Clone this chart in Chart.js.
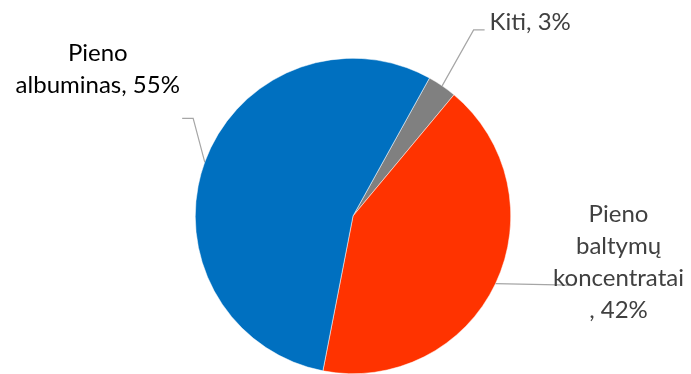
<!DOCTYPE html>
<html>
<head>
<meta charset="utf-8">
<script src="https://cdn.jsdelivr.net/npm/chart.js@4/dist/chart.umd.min.js"></script>
<style>
  html, body { margin: 0; padding: 0; background: #fff; }
  #wrap { width: 691px; height: 374px; position: relative; }
</style>
</head>
<body>
<div id="wrap"><canvas id="c" width="691" height="374"></canvas></div>
<script>
// ---- data ----
const categories = ["Kiti", "Pieno baltymų koncentratai", "Pieno albuminas"];
const shares = [3, 42, 55];
const sliceColors = ["#808080", "#FF3300", "#0070C0"];
// label text lines (per category)
const labelLines = [
  ["Kiti, 3%"],
  ["Pieno", "baltymų", "koncentratai", ", 42%"],
  ["Pieno", "albuminas, 55%"]
];

// ---- label layout (offsets relative to slice mid-point on the rim) ----
const labelLayout = [
  { elbow: [31.5, -56], end: [42.5, -56], text: [47.5, -55.5], align: "left", color: "#404040" },
  { elbow: [74, 1.5], end: [74, 1.5], text: [123, -62], align: "center", color: "#404040" },
  { elbow: [-11.6, -43.7], end: [-22.6, -43.7], text: [-107, -101.5], align: "center", color: "#000000" }
];
const LINE_H = 32;
const FONT = "24px Lato";

const labelPlugin = {
  id: "pieLabels",
  afterDatasetsDraw(chart) {
    const ctx = chart.ctx;
    const meta = chart.getDatasetMeta(0);
    meta.data.forEach((arc, i) => {
      const p = arc.getProps(["x", "y", "startAngle", "endAngle", "outerRadius"], true);
      const mid = (p.startAngle + p.endAngle) / 2;
      const sx = p.x + p.outerRadius * Math.cos(mid);
      const sy = p.y + p.outerRadius * Math.sin(mid);
      const L = labelLayout[i];
      ctx.save();
      ctx.strokeStyle = "#A6A6A6";
      ctx.lineWidth = 1.2;
      ctx.beginPath();
      ctx.moveTo(sx, sy);
      ctx.lineTo(sx + L.elbow[0], sy + L.elbow[1]);
      ctx.lineTo(sx + L.end[0], sy + L.end[1]);
      ctx.stroke();
      ctx.font = FONT;
      ctx.fillStyle = L.color;
      ctx.textAlign = L.align;
      ctx.textBaseline = "alphabetic";
      const tx = sx + L.text[0];
      const ty = sy + L.text[1];
      labelLines[i].forEach((ln, k) => {
        ctx.fillText(ln, tx, ty + k * LINE_H);
      });
      ctx.restore();
    });
  }
};

new Chart(document.getElementById("c"), {
  type: "pie",
  data: {
    labels: categories,
    datasets: [{
      data: shares,
      backgroundColor: sliceColors,
      borderColor: "#ffffff",
      borderWidth: 0.5
    }]
  },
  options: {
    responsive: false,
    animation: false,
    rotation: 29,
    layout: { padding: { top: 58, bottom: -1, left: 15, right: 0 } },
    plugins: {
      legend: { display: false },
      tooltip: { enabled: false }
    }
  },
  plugins: [labelPlugin]
});
</script>
</body>
</html>
